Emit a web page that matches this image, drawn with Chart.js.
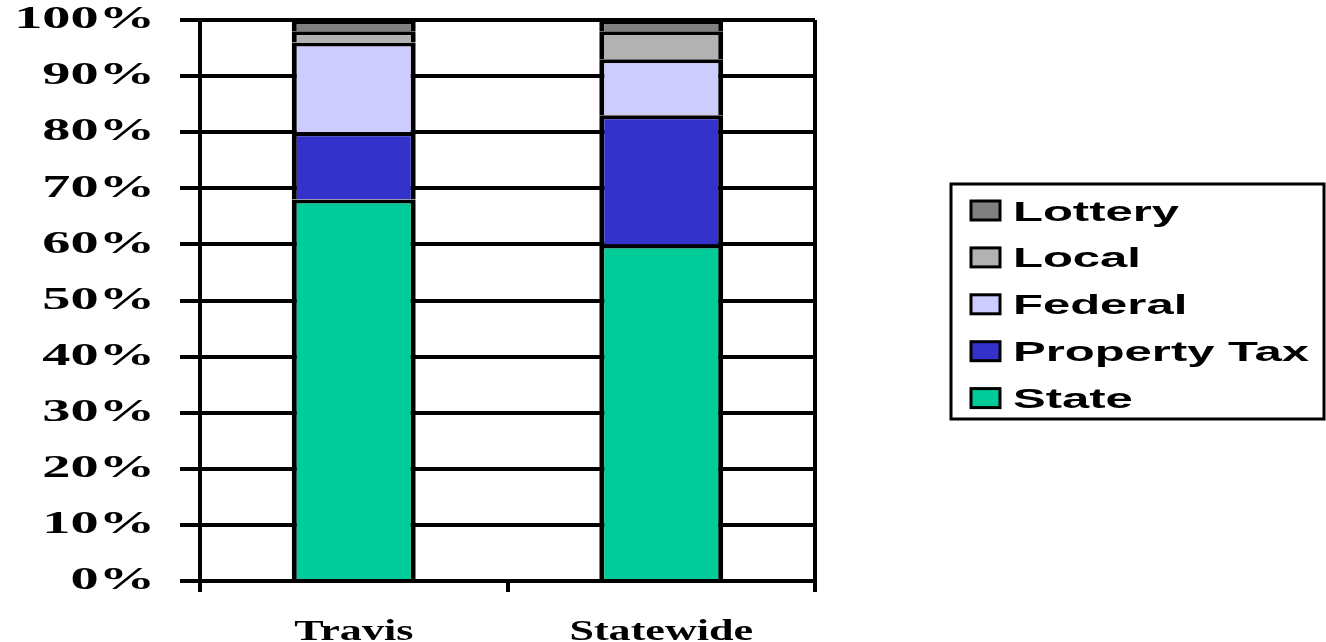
<!DOCTYPE html>
<html>
<head>
<meta charset="utf-8">
<title>Revenue Sources</title>
<script src="https://cdn.jsdelivr.net/npm/chart.js@4.4.1/dist/chart.umd.min.js"></script>
<style>
  html, body { margin: 0; padding: 0; background: #ffffff; }
  #wrap { position: relative; width: 1326px; height: 642px; }
</style>
</head>
<body>
<div id="wrap"><canvas id="chart" width="1326" height="642"></canvas></div>
<script>
// Revenue share by source, in percent
const categories = ['Travis', 'Statewide'];
const state       = [68, 60];
const propertyTax = [12, 23];
const federal     = [16, 10];
const local       = [2, 5];
const lottery     = [2, 2];
const yTicks      = [0, 10, 20, 30, 40, 50, 60, 70, 80, 90, 100];

const seriesNames  = ['State', 'Property Tax', 'Federal', 'Local', 'Lottery'];
const seriesValues = [state, propertyTax, federal, local, lottery];
const seriesColors = ['#00CC99', '#3333CC', '#CCCCFF', '#B2B2B2', '#808080'];

// Horizontal widening of the display type, keyed by font pixel size
const WIDEN = { 32: 1.76, 30: 1.47, 28: 1.75 };

const widePlugin = {
  id: 'wideType',
  beforeInit(chart) {
    const ctx = chart.ctx;
    if (ctx.__wide) return;
    ctx.__wide = true;
    const fill = ctx.fillText.bind(ctx);
    const measure = ctx.measureText.bind(ctx);
    const factor = () => {
      const m = /(\d+(?:\.\d+)?)px/.exec(ctx.font);
      return (m && WIDEN[Math.round(parseFloat(m[1]))]) || 1;
    };
    ctx.fillText = (text, x, y) => {
      const k = factor();
      ctx.save();
      ctx.translate(x, y);
      ctx.scale(k, 1);
      fill(text, 0, 0);
      ctx.restore();
    };
    ctx.measureText = (text) => {
      const m = measure(text);
      return {
        width: m.width * factor(),
        actualBoundingBoxAscent: m.actualBoundingBoxAscent,
        actualBoundingBoxDescent: m.actualBoundingBoxDescent,
        actualBoundingBoxLeft: m.actualBoundingBoxLeft,
        actualBoundingBoxRight: m.actualBoundingBoxRight
      };
    };
  }
};

// Boxed legend on the right, top series first
const boxLegend = {
  id: 'boxLegend',
  afterDraw(chart) {
    const ctx = chart.ctx;
    const box = { left: 951, top: 184, right: 1324, bottom: 419 };
    ctx.save();
    ctx.lineWidth = 3;
    ctx.strokeStyle = '#000000';
    ctx.strokeRect(box.left, box.top, box.right - box.left, box.bottom - box.top);
    const items = chart.data.datasets.slice().reverse();
    const firstY = 210.5, step = 46.9;
    items.forEach((ds, i) => {
      const cy = firstY + i * step;
      ctx.fillStyle = ds.backgroundColor;
      ctx.fillRect(971, cy - 9.5, 29, 19);
      ctx.lineWidth = 3;
      ctx.strokeStyle = '#000000';
      ctx.strokeRect(971, cy - 9.5, 29, 19);
      ctx.fillStyle = '#000000';
      ctx.font = 'bold 28px "Liberation Sans", Arial, sans-serif';
      ctx.textAlign = 'left';
      ctx.textBaseline = 'alphabetic';
      ctx.fillText(ds.label, 1013, cy + 10);
    });
    ctx.restore();
  }
};

const datasets = seriesNames.map((name, i) => ({
  label: name,
  data: seriesValues[i],
  backgroundColor: seriesColors[i],
  borderColor: '#000000',
  borderWidth: { top: 4, left: 5, right: 5, bottom: 0 },
  borderSkipped: false,
  inflateAmount: 0,
  barPercentage: 0.403,
  categoryPercentage: 1.0
}));

new Chart(document.getElementById('chart'), {
  type: 'bar',
  data: { labels: categories, datasets },
  plugins: [widePlugin, boxLegend],
  options: {
    responsive: false,
    animation: false,
    devicePixelRatio: 1,
    layout: { padding: { top: 20, right: 511, left: 0, bottom: 0 } },
    plugins: {
      legend: { display: false },
      tooltip: { enabled: false }
    },
    scales: {
      x: {
        stacked: true,
        grid: {
          offset: true,
          color: (c) => (c.index === 1 ? 'rgba(0,0,0,0)' : '#000000'),
          tickColor: '#000000',
          lineWidth: 4,
          tickLength: 11,
          drawOnChartArea: true
        },
        border: { display: true, color: '#000000', width: 4 },
        ticks: {
          color: '#000000',
          padding: 22,
          font: { family: '"Liberation Serif", "Times New Roman", serif', size: 30, weight: 'bold' }
        },
        afterFit(scale) {
          scale.height = 61;
          scale.paddingLeft = 0;
          scale.paddingRight = 0;
        }
      },
      y: {
        stacked: true,
        min: 0,
        max: 100,
        afterBuildTicks(scale) { scale.ticks = yTicks.map(v => ({ value: v })); },
        grid: {
          color: '#000000',
          tickColor: '#000000',
          lineWidth: 4,
          tickLength: 20
        },
        border: { display: true, color: '#000000', width: 4 },
        ticks: {
          color: '#000000',
          padding: 25,
          callback: (v) => v + '%',
          font: { family: '"Liberation Serif", "Times New Roman", serif', size: 32, weight: 'bold' }
        },
        afterFit(scale) {
          scale.width = 200;
          scale.paddingTop = 0;
          scale.paddingBottom = 0;
        }
      }
    }
  }
});
</script>
</body>
</html>
